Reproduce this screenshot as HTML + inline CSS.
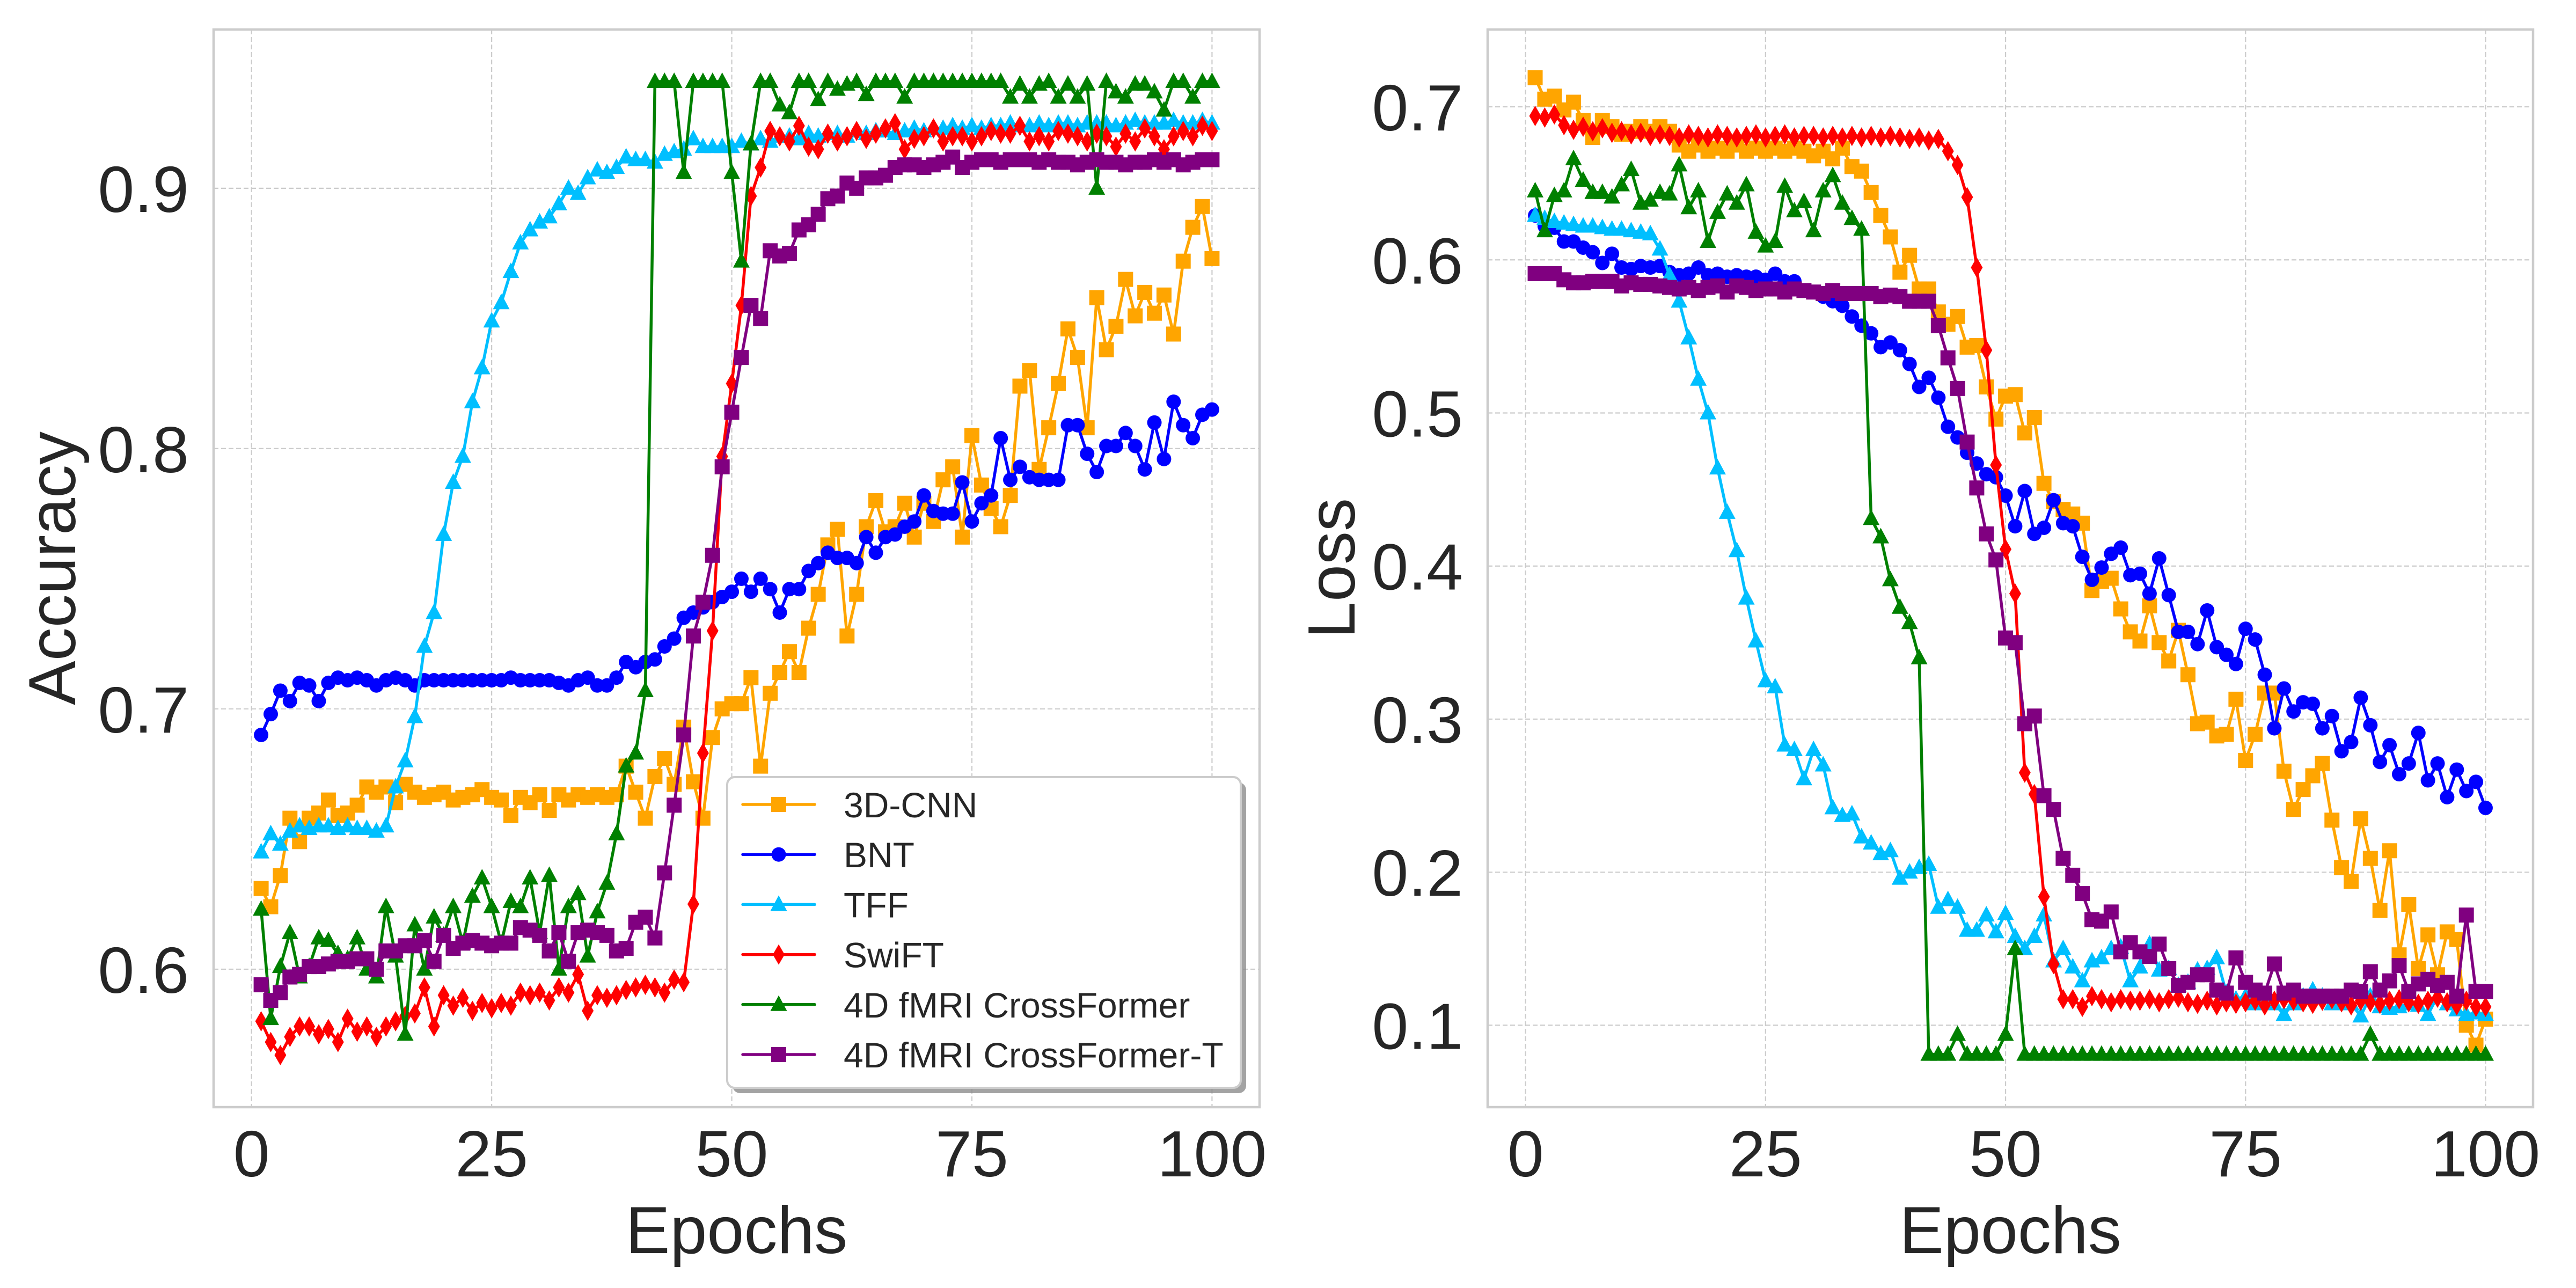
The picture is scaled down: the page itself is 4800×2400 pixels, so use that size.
<!DOCTYPE html>
<html><head><meta charset="utf-8"><style>html,body{margin:0;padding:0;background:#fff}svg{display:block}text{font-family:"Liberation Sans",Arial,sans-serif;fill:#262626}</style></head>
<body>
<svg id="fig" xmlns="http://www.w3.org/2000/svg" width="4800" height="2400" viewBox="0 0 4800 2400">
<rect width="4800" height="2400" fill="#fff"/>
<g id="accPanel"></g>
<g id="lossPanel"></g>
<g id="legend"></g>
</svg>
<script>
const epochs = [];
for (let i = 1; i <= 100; i++) epochs.push(i);
const seriesNames = ["3D-CNN","BNT","TFF","SwiFT","4D fMRI CrossFormer","4D fMRI CrossFormer-T"];
const xTicks = [0,25,50,75,100];
const accTicks = [0.6,0.7,0.8,0.9];
const lossTicks = [0.1,0.2,0.3,0.4,0.5,0.6,0.7];

const acc3DCNN = [.631,.624,.636,.658,.649,.658,.66,.665,.659,.66,.663,.67,.668,.67,
.664,.671,.668,.666,.667,.668,.665,.666,.667,.669,.666,.665,.659,.666,.664,.667,.661,.667,.665,.667,.666,.667,.666,.667,
.678,.668,.658,.674,.681,.671,.693,.672,.658,.689,.70,.702,.702,.712,.678,.706,.714,.722,.714,.731,.744,.763,.769,.728,.744,.77,.78,.768,.77,.779,.766,.779,.772,.788,.793,.766,.805,.786,.777,.77,.782,.824,.83,.792,.808,.825,.846,.835,.808,.858,.838,.847,.865,.851,.86,.852,.859,.844,.872,.885,.893,.873];
const accBNT = [.69,.698,.707,.703,.71,.709,.703,.71,.712,.711,.712,.711,.709,.711,.712,.711,
.709,.711,.711,.711,.711,.711,.711,.711,.711,.711,.712,.711,.711,.711,.711,.71,.709,.711,.712,.709,
.709,.712,.718,.716,.718,.719,.724,.727,.735,.737,.739,.741,.743,.745,.75,.745,.75,.746,.737,.746,.746,.753,.756,.76,.758,.758,.756,.766,.76,.766,.767,.77,.772,.782,.776,.775,.775,.787,.772,.779,.782,.804,.788,.793,.789,.788,.788,.788,.809,.809,.798,.791,.801,.801,.806,.801,.792,.81,.796,.818,.809,.804,.813,.815];
const accTFF = [.645,.652,.648,.653,.655,.654,.655,.655,.654,.655,.654,.654,.653,.655,
.67,.68,.697,.724,.737,.767,.787,.797,.818,.831,.849,.856,.868,.879,.884,.887,.889,.894,.9,.898,.904,.907,.906,.908,.912,.911,.911,.91,.913,.914,.915,.919,.916,.916,.916,.916,
.918,.917,.919,.918,.92,.92,.919,.921,.92,.921,.921,.92,.922,.921,.922,.922,.921,.922,.923,.922,.923,.923,.924,.923,.924,.923,.924,.924,.925,.924,.924,.925,.924,.925,.925,.924,.925,.925,.925,.924,.925,.926,.925,.925,.925,.926,.925,.925,.926,.925];
const accSwiFT = [.58,.572,.567,.574,.578,.578,.575,.577,.572,.581,.576,.578,.574,.578,.58,.582,.583,.593,.578,.59,.586,.589,.584,.587,.585,.587,.586,.591,.59,.591,.588,.593,.591,.598,.584,.59,.589,.59,.592,.593,.594,.593,.591,.596,.595,
.625,.683,.73,.797,.825,.855,.897,.908,.922,
.92,.918,.924,.916,.915,.921,.918,.92,.922,.919,.921,.923,.925,.915,.919,.92,.923,.918,.92,.92,.918,.92,.922,.921,.921,.924,.918,.92,.918,.922,.921,.92,.918,.921,.92,.916,.921,.918,.923,.92,.915,.92,.922,.92,.924,.922];
const accCF = [.623,.581,.601,.614,.597,.601,.612,.611,.606,.604,.612,.6,.597,.624,.605,.575,.617,.6,.62,.613,.624,.61,.628,.635,.624,.61,.626,.624,.635,.614,.636,.6,.624,.629,.605,.622,.633,.652,.678,.683,.707,
.941,.941,.941,.906,.941,.941,.941,.941,.906,.872,.917,.941,.941,.932,.929,.941,.941,.934,.941,
.938,.94,.941,.936,.941,.941,.941,.935,.941,.941,.941,.941,.941,.941,.941,.941,.941,.941,.935,.94,.935,.94,.941,.935,.94,.935,.94,.9,.941,.937,.935,.94,.94,.937,.93,.941,.941,.935,.941,.941];
const accCFT = [.594,.588,.591,.597,.598,.601,.601,.602,.603,.603,.604,.604,.6,.607,.607,.609,.609,.611,.603,.613,.608,.61,.611,.61,.609,.61,.61,.616,.615,.613,.607,.614,.603,.614,.615,.614,.613,.607,.608,.618,.62,.612,
.637,.663,.69,.728,.741,.759,.793,.814,.835,.855,.85,.876,.874,.875,.884,.886,.89,.896,.897,.902,.9,.904,.904,.905,.908,.909,.909,.908,.909,.91,.912,
.908,.91,.911,.911,.91,.911,.911,.911,.91,.911,.91,.91,.909,.91,.911,.91,.91,.909,.91,.91,.911,.91,.911,.909,.91,.911,.911];

const loss3DCNN = [.719,.705,.707,.698,.703,.691,.68,.691,.687,.682,.684,.687,.684,.687,.684,.675,.671,.675,.671,.673,.671,.675,.671,.673,.671,.673,.671,.673,.671,.668,.671,.666,.673,
.661,.658,.644,.629,.615,.592,.603,.581,.581,.566,.558,.563,.543,.544,.517,.496,.511,.512,.487,.497,.454,.442,.437,.434,.428,.384,.39,.392,.372,.357,.351,.374,.35,.338,.358,.329,.297,.298,.289,.29,.313,.273,.29,.317,.317,.266,.241,.254,.263,.271,.234,.203,.194,.235,.209,.175,.214,.146,.179,.137,.159,.133,.161,.156,.1,.087,.104];
const lossBNT = [.629,.622,.621,.612,.612,.608,.605,.598,.604,.595,.594,.596,.595,.596,.592,.59,.591,.595,.59,.591,.589,.59,.589,.589,.587,.591,.586,.586,.58,.579,.576,.573,.57,.563,.557,.552,.543,.546,.541,.532,.517,.523,.51,.491,.484,.474,.467,.46,.458,.446,.426,.449,.421,.425,.443,.428,.426,.406,.391,.399,.408,.412,.394,.395,.382,.405,.381,.357,.357,.349,.371,.347,.342,.336,.359,.352,.329,.294,.32,.305,.311,.31,.294,.302,.279,.285,.314,.296,.272,.283,.264,.271,.291,.26,.271,.249,.267,.253,.259,.242];
const lossTFF = [.629,.627,.625,.624,.623,.622,.622,.621,.62,.62,.619,.618,.617,.607,.59,.573,.549,.522,.5,.464,.435,.41,.379,.351,.325,.321,.283,.28,.261,.28,.27,.242,.237,.238,.223,.219,.212,.214,.196,.2,.203,.205,.177,.182,.177,.162,.162,.172,.161,.173,.158,.15,.158,.172,.142,.15,.138,.129,.142,.144,.15,.151,.129,.138,.153,.136,.137,.126,.128,.136,.137,.144,.121,.117,.119,.114,.119,.114,.107,.114,.119,.123,.119,.114,.114,.114,.106,.119,.112,.111,.112,.114,.113,.107,.119,.114,.11,.107,.108,.107];
const lossSwiFT = [.694,.693,.695,.688,.685,.687,.684,.686,.683,.684,.682,.683,.681,.682,.681,.68,.682,.681,.68,.682,.681,.68,.681,.682,.68,.681,.682,.68,.681,.681,.68,.681,.68,.681,.68,.681,.68,.681,.68,.679,
.68,.678,.679,.671,.662,.641,.595,.541,.466,.411,.382,.265,.251,.184,.14,.117,.117,.112,.119,
.117,.115,.117,.116,.116,.117,.115,.117,.118,.115,.114,.116,.113,.115,.114,.115,.116,.113,.116,.117,.116,.115,.114,.116,.117,.115,.113,.116,.115,.114,.116,.117,.115,.114,.116,.118,.115,.113,.116,.112,.112];
const lossCF = [.645,.619,.642,.645,.666,.652,.644,.644,.641,.649,.659,.637,.639,.644,.643,.662,.634,.645,.612,.631,.643,.637,.649,.618,.609,.612,.648,.632,.638,.619,.645,.655,.637,.627,.62,.431,.419,.391,.373,.363,.34,
.081,.081,.081,.094,.081,.081,.081,.081,.094,.15,.081,.081,.081,.081,.081,.081,.081,.081,.081,.081,.081,.081,.081,.081,.081,.081,.081,.081,.081,.081,.081,.081,.081,.081,.081,.081,.081,.081,.081,.081,.081,.081,.081,.081,.081,.081,.094,.081,.081,.081,.081,.081,.081,.081,.081,.081,.081,.081,.081];
const lossCFT = [.591,.591,.591,.587,.585,.585,.586,.586,.586,.583,.585,.584,.584,.583,.582,.581,.582,.58,.582,.583,.579,.583,.582,.58,.581,.581,.579,.581,.58,.579,.578,.58,.578,.578,.578,.578,.576,.577,.576,.573,.573,.573,
.557,.536,.516,.481,.451,.421,.404,.353,.35,.297,.302,.25,.241,.209,.198,.186,.169,.168,.174,.148,.154,.148,.145,.153,.137,.126,.128,.133,.133,.123,.121,.144,.128,.123,.121,.14,.121,.123,.119,.119,.119,.119,.119,.123,.122,.135,.123,.129,.139,.122,.127,.13,.126,.128,.119,.172,.122,.122];

const NS = "http://www.w3.org/2000/svg";
const colors = ["#FFA500","#0000FF","#00BFFF","#FF0000","#008000","#800080"];
const markers = ["s","o","^","d","^","s"];
const keys = ["3d-cnn","bnt","tff","swift","crossformer","crossformer-t"];

function mk(tag, attrs, parent) {
  const el = document.createElementNS(NS, tag);
  for (const k in attrs) el.setAttribute(k, attrs[k]);
  parent.appendChild(el);
  return el;
}
function markerShape(type, x, y, color, parent) {
  let el;
  if (type === "s") el = mk("rect", {x: x-14, y: y-14, width: 28, height: 28, fill: color}, parent);
  else if (type === "o") el = mk("circle", {cx: x, cy: y, r: 13.5, fill: color}, parent);
  else if (type === "^") el = mk("polygon", {points: `${x},${y-17} ${x+15.5},${y+12} ${x-15.5},${y+12}`, fill: color}, parent);
  else el = mk("polygon", {points: `${x},${y-19} ${x+11},${y} ${x},${y+19} ${x-11},${y}`, fill: color}, parent);
  return el;
}

function drawPanel(g, cfg) {
  const xs = v => cfg.L + (v - cfg.xmin) / (cfg.xmax - cfg.xmin) * (cfg.R - cfg.L);
  const ys = v => cfg.B - (v - cfg.ymin) / (cfg.ymax - cfg.ymin) * (cfg.B - cfg.T);
  xTicks.forEach(t => {
    const l = mk("line", {x1: xs(t), x2: xs(t), y1: cfg.T, y2: cfg.B, stroke: "#cccccc", "stroke-width": 2.2, "stroke-dasharray": "9,5"}, g);
    
    
    const tx = mk("text", {x: xs(t), y: 2192, "font-size": 122, "text-anchor": "middle"}, g);
    tx.textContent = t;
    
    
  });
  cfg.yticks.forEach(t => {
    const l = mk("line", {x1: cfg.L, x2: cfg.R, y1: ys(t), y2: ys(t), stroke: "#cccccc", "stroke-width": 2.2, "stroke-dasharray": "9,5"}, g);
    
    
    const tx = mk("text", {x: cfg.L - 46, y: ys(t) + 44, "font-size": 122, "text-anchor": "end"}, g);
    tx.textContent = t.toFixed(1);
    
    
  });
  cfg.series.forEach((data, si) => {
    const sg = mk("g", {}, g);
    
    
    const pts = data.map((v, i) => xs(epochs[i]) + "," + ys(v)).join(" ");
    const pl = mk("polyline", {points: pts, fill: "none", stroke: colors[si], "stroke-width": 5.5, "stroke-linejoin": "round"}, sg);
    
    
    data.forEach((v, i) => {
      const m = markerShape(markers[si], xs(epochs[i]), ys(v), colors[si], sg);
      
      
    });
  });
  const fr = mk("rect", {x: cfg.L, y: cfg.T, width: cfg.R - cfg.L, height: cfg.B - cfg.T, fill: "none", stroke: "#cccccc", "stroke-width": 4.5}, g);
  
  
  const xl = mk("text", {x: (cfg.L + cfg.R) / 2, y: 2335, "font-size": 124, "text-anchor": "middle"}, g);
  xl.textContent = "Epochs";
  
  
  const yl = mk("text", {x: 0, y: 0, "font-size": 124, "text-anchor": "middle", transform: `translate(${cfg.ylx},${(cfg.T + cfg.B) / 2}) rotate(-90)`}, g);
  yl.textContent = cfg.ylabel;
  
  
}

drawPanel(document.getElementById("accPanel"), {L: 398, R: 2347, T: 55, B: 2063, xmin: -3.95, xmax: 104.95,
  ymin: 0.547, ymax: 0.961, yticks: accTicks, ylabel: "Accuracy", ylx: 140,
  series: [acc3DCNN, accBNT, accTFF, accSwiFT, accCF, accCFT]});
drawPanel(document.getElementById("lossPanel"), {L: 2772, R: 4720, T: 55, B: 2063, xmin: -3.95, xmax: 104.95,
  ymin: 0.0465, ymax: 0.7505, yticks: lossTicks, ylabel: "Loss", ylx: 2524,
  series: [loss3DCNN, lossBNT, lossTFF, lossSwiFT, lossCF, lossCFT]});

// legend
const lg = document.getElementById("legend");
const sh = mk("rect", {x: 1365, y: 1458, width: 957, height: 579, rx: 14, fill: "#8c8c8c", opacity: 0.8}, lg);


const lb = mk("rect", {x: 1355, y: 1448, width: 957, height: 579, rx: 14, fill: "#fff", stroke: "#cccccc", "stroke-width": 4}, lg);


seriesNames.forEach((n, i) => {
  const cy = 1499 + i * 93.2;
  const eg = mk("g", {}, lg);
  
  
  mk("line", {x1: 1384, x2: 1518, y1: cy, y2: cy, stroke: colors[i], "stroke-width": 5.5, "stroke-linecap": "round"}, eg);
  markerShape(markers[i], 1451, cy, colors[i], eg);
  const t = mk("text", {x: 1572, y: cy + 24, "font-size": 66}, eg);
  t.textContent = n;
});
</script>
</body></html>
